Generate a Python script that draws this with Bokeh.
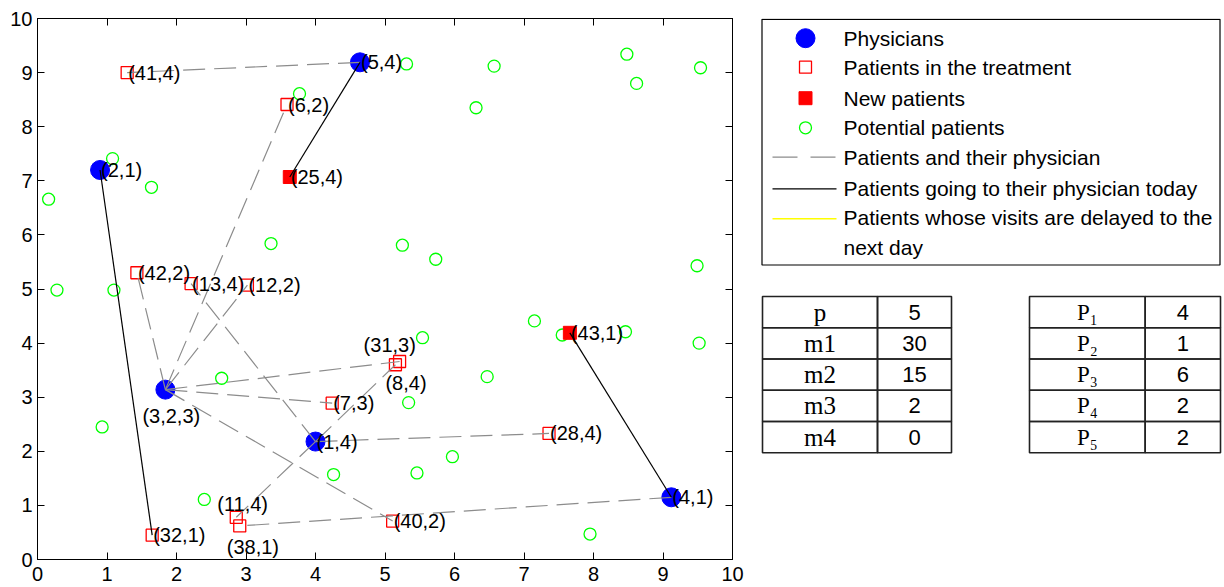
from bokeh.plotting import figure
from bokeh.layouts import row
from bokeh.models import Range1d, LinearAxis, FixedTicker, CustomJSTickFormatter, ColumnDataSource
from bokeh.core.properties import value
from bokeh.embed import file_html
from bokeh.resources import INLINE

# ---------------- data ----------------
phys_labels = ["(2,1)", "(5,4)", "(3,2,3)", "(1,4)", "(4,1)"]
phys_x = [0.90, 4.64, 1.84, 4.00, 9.12]
phys_y = [7.20, 9.19, 3.14, 2.18, 1.15]

treat_labels = ["(41,4)", "(6,2)", "(42,2)", "(13,4)", "(12,2)", "(31,3)", "(8,4)",
                "(7,3)", "(28,4)", "(40,2)", "(11,4)", "(38,1)", "(32,1)"]
treat_x = [1.29, 3.59, 1.43, 2.21, 3.02, 5.21, 5.15, 4.24, 7.36, 5.11, 2.86, 2.91, 1.65]
treat_y = [9.00, 8.41, 5.30, 5.10, 5.07, 3.66, 3.60, 2.89, 2.33, 0.71, 0.78, 0.62, 0.45]

new_labels = ["(25,4)", "(43,1)"]
new_x = [3.63, 7.66]
new_y = [7.07, 4.19]

pot_x = [3.77, 1.08, 1.64, 0.16, 3.36, 0.28, 1.10, 5.31, 6.57, 6.31, 8.48, 8.62, 9.54, 5.25, 5.73,
         9.49, 2.65, 0.93, 4.26, 2.40, 7.15, 5.54, 7.55, 8.46, 9.52, 6.47, 5.34, 5.97, 5.46, 7.95]
pot_y = [8.61, 7.41, 6.88, 6.66, 5.84, 4.98, 4.98, 9.16, 9.12, 8.35, 9.34, 8.80, 9.09, 5.81, 5.55,
         5.43, 3.35, 2.45, 1.57, 1.11, 4.41, 4.10, 4.15, 4.21, 4.00, 3.38, 2.90, 1.90, 1.60, 0.47]

links_assigned = [("(5,4)", "(41,4)"), ("(3,2,3)", "(6,2)"), ("(3,2,3)", "(42,2)"),
                  ("(3,2,3)", "(12,2)"), ("(3,2,3)", "(31,3)"), ("(3,2,3)", "(7,3)"),
                  ("(3,2,3)", "(40,2)"), ("(1,4)", "(13,4)"), ("(1,4)", "(8,4)"),
                  ("(1,4)", "(28,4)"), ("(1,4)", "(11,4)"), ("(4,1)", "(38,1)")]
links_today = [("(2,1)", "(32,1)"), ("(5,4)", "(25,4)"), ("(4,1)", "(43,1)")]
links_delayed = []

legend_labels = ["Physicians", "Patients in the treatment", "New patients", "Potential patients",
                 "Patients and their physician", "Patients going to their physician today",
                 "Patients whose visits are delayed to the\nnext day"]

param_names = ["p", "m1", "m2", "m3", "m4"]
param_values = ["5", "30", "15", "2", "0"]
load_names = ["P\u2081", "P\u2082", "P\u2083", "P\u2084", "P\u2085"]
load_values = ["4", "1", "6", "2", "2"]

tick_values = list(range(11))

# label pixel offsets (style)
label_offsets = {"(31,3)": (-36, -16), "(8,4)": (-10, 18), "(3,2,3)": (-23, 26),
                 "(11,4)": (-19, -13), "(38,1)": (-13, 21)}

FONT = "Liberation Sans"
GRAY = "#8c8c8c"
DASH = "22 9"

# ---------------- main plot ----------------
p = figure(frame_width=695, frame_height=541, x_range=Range1d(0, 10), y_range=Range1d(0, 10),
           toolbar_location=None, output_backend="svg",
           min_border_left=37, min_border_right=12, min_border_top=18, min_border_bottom=28)
p.xgrid.visible = False
p.ygrid.visible = False
p.outline_line_color = "black"
p.outline_line_width = 1
p.add_layout(LinearAxis(), "above")
p.add_layout(LinearAxis(), "right")
blank = CustomJSTickFormatter(code="return ''")
for i, ax in enumerate(p.axis):
    ax.ticker = FixedTicker(ticks=tick_values)
    ax.major_tick_in = 7
    ax.major_tick_out = 0
    ax.minor_tick_in = 0
    ax.minor_tick_out = 0
    ax.axis_line_color = "black"
    ax.major_tick_line_color = "black"
    ax.major_label_text_font = FONT
    ax.major_label_text_font_size = "20px"
    ax.major_label_text_color = "black"
p.above[0].formatter = blank
p.right[0].formatter = blank
p.below[0].major_label_standoff = 7
p.left[0].major_label_standoff = 5

pos = {}
for lab, x, y in zip(phys_labels, phys_x, phys_y):
    pos[lab] = (x, y)
for lab, x, y in zip(treat_labels + new_labels, treat_x + new_x, treat_y + new_y):
    pos[lab] = (x, y)

# markers
p.scatter(pot_x, pot_y, marker="circle", size=12, fill_color=None, line_color="#00FF00", line_width=1.3)
p.scatter(treat_x, treat_y, marker="square", size=12, fill_color=None, line_color="#FF0000", line_width=1.3)
p.scatter(new_x, new_y, marker="square", size=13, fill_color="#FF0000", line_color="#FF0000")
p.scatter(phys_x, phys_y, marker="circle", size=19, fill_color="#0000FF", line_color="#0000FF")


def segs(links):
    xs, ys = [], []
    for a, b in links:
        xs.append([pos[a][0], pos[b][0]])
        ys.append([pos[a][1], pos[b][1]])
    return xs, ys

xs, ys = segs(links_assigned)
p.multi_line(xs, ys, line_color=GRAY, line_width=1.2, line_dash=DASH)
xs, ys = segs(links_today)
p.multi_line(xs, ys, line_color="black", line_width=1.2)
if links_delayed:
    xs, ys = segs(links_delayed)
    p.multi_line(xs, ys, line_color="#FFFF00", line_width=1.2)

all_labels = phys_labels + treat_labels + new_labels
lx = [pos[l][0] for l in all_labels]
ly = [pos[l][1] for l in all_labels]
dx = [label_offsets.get(l, (1, 0))[0] for l in all_labels]
dy = [label_offsets.get(l, (1, 0))[1] for l in all_labels]
src = ColumnDataSource(dict(x=lx, y=ly, text=all_labels, dx=dx, dy=dy))
p.text(x="x", y="y", text="text", x_offset="dx", y_offset="dy", source=src,
       text_font=value(FONT), text_font_size=value("20px"), text_color="black",
       text_align="left", text_baseline="middle")

# ---------------- side panel: legend + tables ----------------
# the frame of this panel is aligned with the main frame (page rows 18..559),
# so its y range is given in page pixel rows
s = figure(width=480, height=587, x_range=Range1d(0, 480), y_range=Range1d(559, 18),
           toolbar_location=None, output_backend="svg", min_border=0,
           x_axis_location=None, y_axis_location=None)
s.xgrid.visible = False
s.ygrid.visible = False
s.outline_line_color = None

# legend frame
s.quad(left=[17.5], right=[475.5], top=[18.8], bottom=[264.5], fill_color=None,
       line_color="black", line_width=1.2)
rows_y = [37.7, 66.7, 97.7, 127.3, 156.7, 188.3, 218.3]
mx = 61
s.scatter([mx], [rows_y[0]], marker="circle", size=19, fill_color="#0000FF", line_color="#0000FF")
s.scatter([mx], [rows_y[1]], marker="square", size=12, fill_color=None, line_color="#FF0000", line_width=1.3)
s.scatter([mx], [rows_y[2]], marker="square", size=13, fill_color="#FF0000", line_color="#FF0000")
s.scatter([mx], [rows_y[3]], marker="circle", size=12, fill_color=None, line_color="#00FF00", line_width=1.3)
s.line([28, 92], [rows_y[4], rows_y[4]], line_color=GRAY, line_width=1.2, line_dash="25 13")
s.line([28, 92], [rows_y[5], rows_y[5]], line_color="black", line_width=1.2)
s.line([28, 92], [rows_y[6], rows_y[6]], line_color="#FFFF00", line_width=1.5)
s.text(x=[99] * 6, y=rows_y[:6], text=legend_labels[:6], text_font=value(FONT),
       text_font_size=value("21px"), text_color="black", text_align="left", text_baseline="middle")
s.text(x=[99], y=[rows_y[6] - 13], text=[legend_labels[6]], text_font=value(FONT),
       text_font_size=value("21px"), text_color="black", text_align="left", text_baseline="top",
       text_line_height=1.3)

# tables
top0 = 296.0
rh = 31.26
for (l0, c0, r0, names, vals, nfont, nsize) in [
        (18, 133, 207, param_names, param_values, "Liberation Serif", "25px"),
        (285, 400.7, 476, load_names, load_values, "Liberation Serif", "23px")]:
    tops = [top0 + i * rh for i in range(5)]
    bots = [t + rh for t in tops]
    s.quad(left=[l0] * 5, right=[c0] * 5, top=tops, bottom=bots, fill_color=None,
           line_color="#222222", line_width=1.6)
    s.quad(left=[c0] * 5, right=[r0] * 5, top=tops, bottom=bots, fill_color=None,
           line_color="#222222", line_width=1.6)
    cy = [t + rh / 2 for t in tops]
    s.text(x=[(l0 + c0) / 2] * 5, y=cy, text=names, text_font=value(nfont),
           text_font_size=value(nsize), text_color="black", text_align="center",
           text_baseline="middle")
    s.text(x=[(c0 + r0) / 2] * 5, y=cy, text=vals, text_font=value(FONT),
           text_font_size=value("22px"), text_color="black", text_align="center",
           text_baseline="middle")

layout = row(p, s)
open("out.html", "w").write(file_html(layout, INLINE))
